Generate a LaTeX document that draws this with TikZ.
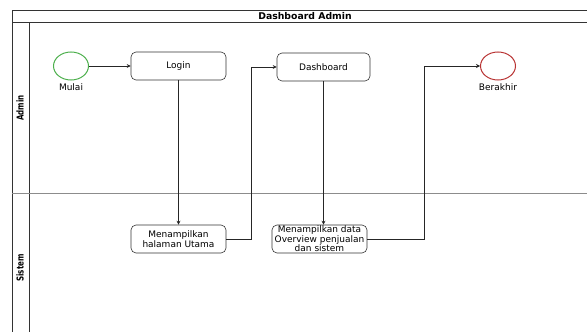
\documentclass[tikz,border=0pt]{standalone}
\usepackage{fontspec}
\setmainfont{DejaVu Sans}
\usetikzlibrary{positioning,arrows.meta,shapes}
\tikzset{
	step box/.style={draw=black!80,semithick,rounded corners=5pt,minimum width=95pt,minimum height=28pt,inner sep=0.5pt,align=center,font=\fontsize{9}{9.5}\selectfont},
	start/.style={ellipse,draw=green!55!black!70,line width=1pt,minimum width=35pt,minimum height=28pt,inner sep=0},
	stop/.style={ellipse,draw=red!65!black!80,line width=1pt,minimum width=35pt,minimum height=28pt,inner sep=0},
	flow/.style={->,>={Stealth[width=4pt,length=4pt]},color=black!85,semithick},
	lane/.style={draw=black!80,thin},
	lanelabel/.style={rotate=90,xscale=0.75,font=\fontsize{9.5}{10}\selectfont\bfseries},
	circlabel/.style={font=\fontsize{9}{10}\selectfont}
}
\begin{document}
\begin{tikzpicture}[x=1pt,y=-1pt]
	\useasboundingbox (0,0) rectangle (587,332);

	%%pool and lanes
	\draw[lane] (600,10) -- (12,10) -- (12,340);
	\draw[lane] (12,22) -- (600,22);
	\draw[lane] (29,22) -- (29,340);
	\draw[draw=black!45,thick] (12,193) -- (600,193);
	\node[font=\fontsize{9.3}{10}\selectfont\bfseries] (title) at (305,16) {Dashboard Admin};
	\node[lanelabel] (admin) at (20,108) {Admin};
	\node[lanelabel] (sistem) at (20,268) {Sistem};

	%%lane Admin
	\node[start,label={[circlabel]below:Mulai}] (mulai) at (71,66) {};
	\node[step box] (login) at (178.5,66) {Login};
	\node[step box,minimum width=93pt] (dash) at (323.5,67) {Dashboard};
	\node[stop,label={[circlabel]below:Berakhir}] (akhir) at (498,66) {};

	%%lane Sistem
	\node[step box] (utama) at (178.5,239) {Menampilkan\\halaman Utama};
	\node[step box] (overview) at (319.5,239) {Menampilkan data\\Overview penjualan\\dan sistem};

	%%%%%% EDGES
	\draw[flow] (mulai) -- (login);
	\draw[flow] (login) -- (utama);
	\draw[flow] (utama.east) -- ++(25,0) |- (dash.west);
	\draw[flow] (dash.south) -- (dash.south |- overview.north);
	\draw[flow] (overview.east) -- ++(57,0) |- (akhir.west);

\end{tikzpicture}
\end{document}
